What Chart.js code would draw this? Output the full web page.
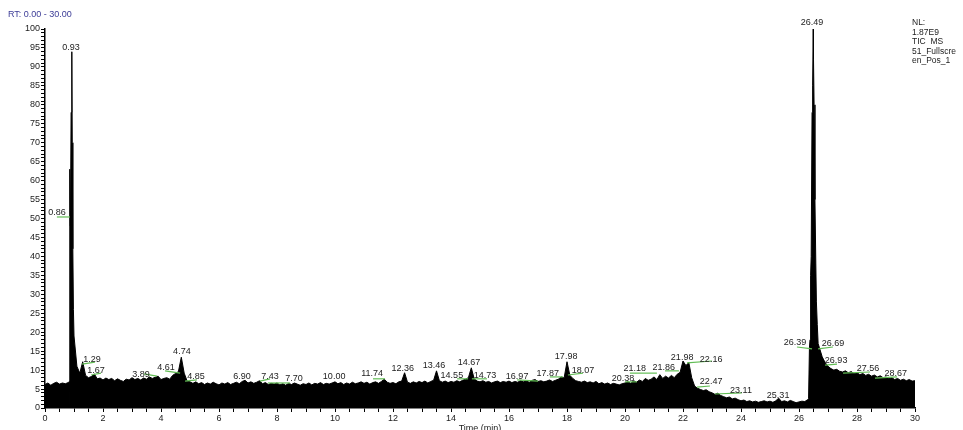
<!DOCTYPE html>
<html lang="en">
<head>
  <meta charset="UTF-8">
  <title>TIC MS - 51_Fullscreen_Pos_1</title>
  <script src="https://cdn.jsdelivr.net/npm/chart.js"></script>
  <style>
    body { margin: 0; background: #fff; }
    .grafico { position: relative; width: 963px; height: 430px; }
  </style>
</head>
<body>

  <div class="grafico">
    <canvas id="ticChart"></canvas>
  </div>

  <script>
    // Relative abundance (%), one reading every 0.1 min from 0.0 to 30.0
    const step = 0.1;
    const intensity = [
      6.2, 6.6, 6.0, 6.5, 6.8, 6.3, 6.6, 6.4, 6.7, 78,     // 0
      19, 11, 9.2, 12.2, 8.6, 8.0, 8.3, 9.0, 7.7, 7.9,     // 1
      7.4, 7.9, 7.5, 7.8, 7.2, 7.7, 7.3, 7.0, 7.6, 7.4,    // 2
      8.0, 7.5, 7.8, 7.4, 7.9, 7.6, 8.2, 7.8, 8.1, 8.4,    // 3
      7.5, 7.8, 8.0, 7.6, 8.6, 9.1, 9.6, 13.4, 9.2, 7.1,   // 4
      6.9, 6.5, 6.9, 6.4, 6.7, 6.2, 6.6, 6.3, 6.8, 6.4,    // 5
      6.1, 6.6, 6.3, 6.7, 6.2, 6.5, 6.8, 6.4, 7.0, 7.3,    // 6
      6.6, 6.9, 6.5, 6.8, 7.2, 6.4, 6.7, 6.2, 6.5, 6.3,    // 7
      6.6, 6.1, 6.4, 6.0, 6.5, 6.2, 6.6, 6.3, 6.0, 6.4,    // 8
      6.2, 6.6, 6.1, 6.5, 6.3, 6.7, 6.2, 6.5, 6.3, 6.6,    // 9
      6.9, 6.4, 6.7, 6.2, 6.6, 6.3, 6.8, 6.4, 6.6, 6.9,    // 10
      6.5, 6.8, 6.3, 6.7, 6.9, 6.5, 7.0, 7.6, 6.8, 6.5,    // 11
      6.7, 6.4, 6.9, 7.1, 9.3, 6.8, 6.5, 6.9, 6.6, 7.0,    // 12
      6.7, 7.1, 6.6, 7.0, 7.3, 9.8, 7.2, 6.8, 7.1, 6.7,    // 13
      7.0, 6.8, 7.2, 6.9, 7.3, 7.6, 8.0, 10.6, 7.7, 7.1,   // 14
      6.9, 7.2, 6.8, 7.0, 6.6, 6.9, 7.1, 6.7, 7.0, 6.8,    // 15
      7.1, 6.7, 7.0, 6.8, 7.2, 6.9, 7.1, 6.8, 7.3, 7.5,    // 16
      7.0, 7.2, 6.9, 7.1, 7.4, 7.0, 7.3, 7.6, 8.2, 7.9,    // 17
      12.2, 8.6, 7.8, 7.2, 7.0, 6.8, 7.1, 6.7, 6.9, 6.6,   // 18
      7.0, 6.4, 6.7, 6.3, 6.6, 6.2, 6.5, 6.3, 6.1, 6.4,    // 19
      6.6, 6.9, 6.5, 7.2, 6.8, 7.4, 7.0, 7.8, 7.3, 7.6,    // 20
      8.2, 7.5, 8.8, 7.8, 8.4, 7.9, 8.6, 8.0, 8.9, 9.4,    // 21
      12.4, 11.2, 12.0, 8.0, 5.8, 5.2, 4.9, 4.6, 4.8, 4.3, // 22
      4.0, 3.6, 3.9, 3.3, 3.0, 2.7, 2.9, 2.4, 2.6, 2.2,    // 23
      1.9, 2.1, 1.7, 1.9, 1.6, 1.8, 1.5, 1.7, 1.9, 1.6,    // 24
      1.8, 1.5, 1.9, 2.6, 1.7, 1.9, 1.6, 2.0, 1.7, 1.4,    // 25
      1.6, 1.8, 1.7, 2.2, 35, 92, 28, 16, 13.5, 12.0,      // 26
      11.0, 10.4, 10.0, 10.2, 9.7, 9.5, 9.8, 9.3, 9.6, 9.1, // 27
      9.3, 8.8, 9.1, 8.6, 8.9, 8.4, 8.7, 8.2, 8.5, 8.0,    // 28
      8.2, 7.7, 8.0, 7.5, 7.8, 7.3, 7.6, 7.2, 7.5, 7.1,    // 29
      7.2                                                  // 30
    ];

    // Extra readings around the two sharp peaks (0.93 and 26.49 min)
    const peakTimes = [0.84, 0.85, 0.86, 0.87, 0.88, 0.92, 0.93, 0.94, 0.96, 0.98,
                       26.33, 26.36, 26.38, 26.42, 26.45, 26.47, 26.49, 26.52, 26.55, 26.58, 26.63, 26.66];
    const peakValues = [7, 0.8, 63, 48, 52, 90, 94, 70, 42, 26,
                        2.5, 16, 18, 40, 78, 85, 100, 80, 55, 38, 22, 17];

    // Retention time labels
    const peakLabels = ['0.93', '0.86', '1.29', '1.67', '3.89', '4.61', '4.74', '4.85', '6.90', '7.43',
                        '7.70', '10.00', '11.74', '12.36', '13.46', '14.55', '14.67', '14.73', '16.97', '17.87',
                        '17.98', '18.07', '20.38', '21.18', '21.86', '21.98', '22.16', '22.47', '23.11', '25.31',
                        '26.39', '26.49', '26.69', '26.93', '27.56', '28.67'];

    // Where each label sits (in axis units: min, %)
    const labelX = [0.90, 0.41, 1.62, 1.76, 3.31, 4.17, 4.72, 5.21, 6.79, 7.76,
                    8.59, 9.97, 11.28, 12.34, 13.41, 14.03, 14.62, 15.17, 16.28, 17.34,
                    17.97, 18.55, 19.93, 20.34, 21.34, 21.97, 22.97, 22.97, 24.0, 25.28,
                    25.86, 26.45, 27.17, 27.28, 28.38, 29.34];
    const labelY = [95.0, 51.5, 12.9, 10.0, 8.9, 10.8, 14.8, 8.2, 8.4, 8.2,
                    7.7, 8.2, 9.0, 10.3, 11.1, 8.7, 11.9, 8.7, 8.4, 9.2,
                    13.5, 10.0, 7.7, 10.3, 10.8, 13.2, 12.9, 6.9, 4.7, 3.4,
                    17.2, 101.6, 16.9, 12.4, 10.3, 9.2];

    // Green leader lines [t1, v1, t2, v2]
    const leaders = [
      [0.41, 50.4, 0.86, 50.4], [1.28, 11.6, 1.72, 12.1], [1.59, 8.7, 1.93, 9.2],
      [3.41, 9.0, 3.86, 8.4], [4.14, 9.8, 4.66, 9.2], [4.83, 7.1, 5.24, 7.4],
      [7.41, 7.1, 7.76, 7.7], [7.69, 6.6, 8.45, 6.6], [11.31, 7.7, 11.72, 7.7],
      [14.21, 7.7, 14.59, 7.7], [14.72, 7.7, 15.24, 7.7], [16.28, 7.4, 17.0, 7.1],
      [17.41, 8.2, 17.86, 8.2], [18.03, 8.7, 18.55, 9.2], [20.0, 6.9, 20.41, 6.9],
      [20.17, 9.2, 21.1, 9.2], [21.38, 9.8, 21.86, 9.8], [22.14, 11.9, 23.0, 12.4],
      [22.48, 5.5, 22.93, 5.8], [23.1, 3.7, 24.03, 4.0], [25.93, 16.1, 26.45, 15.6],
      [26.66, 15.6, 27.17, 16.1], [26.9, 11.3, 27.31, 11.6], [27.52, 9.2, 28.45, 9.5],
      [28.62, 7.9, 29.38, 8.2]
    ];

    const infoLines = ['NL:', '1.87E9', 'TIC  MS', '51_Fullscre', 'en_Pos_1'];

    // Build the point list (regular readings + peak readings), sorted by time
    const points = intensity.map((v, i) => ({ x: +(i * step).toFixed(2), y: v }));
    peakTimes.forEach((t, i) => points.push({ x: t, y: peakValues[i] }));
    points.sort((a, b) => a.x - b.x);

    const fonte = '"Liberation Sans", Arial, sans-serif';

    // Labels, leader lines and header texts
    const annotations = {
      id: 'annotations',
      afterDatasetsDraw(chart) {
        const { ctx, scales: { x, y } } = chart;
        ctx.save();

        ctx.strokeStyle = '#62bd55';
        ctx.lineWidth = 1.2;
        leaders.forEach(l => {
          ctx.beginPath();
          ctx.moveTo(x.getPixelForValue(l[0]), y.getPixelForValue(l[1]));
          ctx.lineTo(x.getPixelForValue(l[2]), y.getPixelForValue(l[3]));
          ctx.stroke();
        });

        ctx.font = '9px ' + fonte;
        ctx.fillStyle = '#222';
        ctx.textAlign = 'center';
        ctx.textBaseline = 'middle';
        peakLabels.forEach((txt, i) => {
          ctx.fillText(txt, x.getPixelForValue(labelX[i]), y.getPixelForValue(labelY[i]));
        });

        ctx.textAlign = 'left';
        ctx.fillStyle = '#3b3b96';
        ctx.fillText('RT: 0.00 - 30.00', 8, 15);

        ctx.fillStyle = '#222';
        ctx.font = '8.5px ' + fonte;
        infoLines.forEach((txt, i) => ctx.fillText(txt, 912, 23 + i * 9.5));

        ctx.restore();
      }
    };

    new Chart(document.getElementById('ticChart'), {
      type: 'line',
      data: {
        datasets: [{
          label: 'TIC MS',
          data: points,
          borderColor: '#000',
          backgroundColor: '#000',
          borderWidth: 1,
          fill: 'origin',
          pointRadius: 0,
          tension: 0
        }]
      },
      options: {
        responsive: true,
        maintainAspectRatio: false,
        animation: false,
        events: [],
        layout: { padding: { top: 29, right: 48, left: 0, bottom: 0 } },
        plugins: {
          legend: { display: false },
          tooltip: { enabled: false }
        },
        scales: {
          x: {
            type: 'linear',
            min: 0,
            max: 30,
            afterFit: s => { s.height = 22; },
            border: { color: '#000', width: 1.5 },
            grid: { drawOnChartArea: false, tickLength: 4, color: '#000' },
            ticks: {
              stepSize: 0.5,
              autoSkip: false,
              maxRotation: 0,
              padding: 1,
              color: '#222',
              font: { size: 9, family: fonte },
              callback: v => (v % 2 === 0 ? v : '')
            },
            title: {
              display: true,
              text: 'Time (min)',
              color: '#222',
              font: { size: 9, family: fonte },
              padding: { top: 0, bottom: -4 }
            }
          },
          y: {
            min: 0,
            max: 100,
            afterFit: s => { s.width = 45; },
            border: { color: '#000', width: 1.5 },
            grid: { drawOnChartArea: false, tickLength: 4, color: '#000' },
            ticks: {
              stepSize: 1,
              autoSkip: false,
              padding: 1,
              color: '#222',
              font: { size: 9, family: fonte },
              callback: v => (v % 5 === 0 ? v : '')
            }
          }
        }
      },
      plugins: [annotations]
    });
  </script>
</body>
</html>
